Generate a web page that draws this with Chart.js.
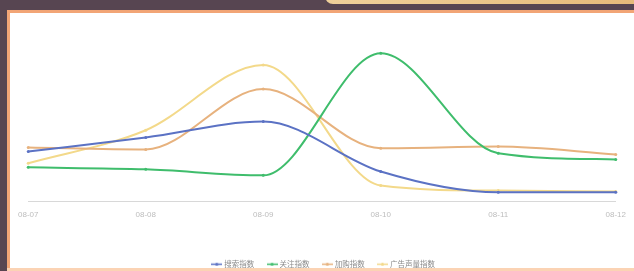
<!DOCTYPE html>
<html lang="zh">
<head>
    <meta charset="UTF-8">
    <title>指数趋势</title>
    <style>
        html, body { margin: 0; padding: 0; }
        body { width: 634px; height: 271px; background: #574551; position: relative; overflow: hidden; font-family: "Noto Sans CJK SC", "Noto Sans", sans-serif; }
        .tab { position: absolute; left: 325px; top: -12px; width: 330px; height: 16px; border-radius: 8px; background: linear-gradient(90deg, #efd09a, #e6b978); }
        .panel { position: absolute; left: 7px; top: 10px; width: 640px; height: 261px; background: #fff;
                 border-left: 3px solid #f2a576; border-top: 3px solid #f2a576; box-sizing: border-box; }
        #box { position: absolute; left: 10px; top: 13px; width: 624px; height: 265px; }
        .bottom { position: absolute; left: 7px; top: 268px; width: 640px; height: 3px; background: #fbd3b4; }
    </style>
</head>
<body>
    <div class="tab"></div>
    <div class="panel"></div>
    <div id="box"><canvas id="myChart"></canvas></div>
    <div class="bottom"></div>

    <script src="https://cdn.jsdelivr.net/npm/chart.js"></script>
    <script>
    "use strict"

    const dates = ["08-07", "08-08", "08-09", "08-10", "08-11", "08-12"]
    const search = [30, 38.5, 48, 18, 5.5, 5.5]
    const follow = [20.5, 19.3, 15.7, 89, 29, 25.3]
    const cart = [32.5, 31.3, 67.5, 32, 33, 28.3]
    const adVoice = [23, 42.8, 82, 9.6, 6.6, 6]

    const colors = ["#5b72c4", "#3fbd6c", "#e7b27e", "#f3d98a"]

    // small "-•-" marker for the legend
    function marker(color) {
        const c = document.createElement("canvas")
        c.width = 11
        c.height = 5
        const g = c.getContext("2d")
        g.strokeStyle = color
        g.lineWidth = 1.5
        g.beginPath()
        g.moveTo(0, 2.5)
        g.lineTo(11, 2.5)
        g.stroke()
        g.fillStyle = color
        g.beginPath()
        g.arc(5.5, 2.5, 1.6, 0, Math.PI * 2)
        g.fill()
        return c
    }

    function line(label, data, color) {
        return {
            label: label,
            data: data,
            borderColor: color,
            backgroundColor: color,
            borderWidth: 2,
            pointRadius: 1.5,
            pointBorderWidth: 0,
            tension: 0.4,
            cubicInterpolationMode: "monotone"
        }
    }

    const ctx = document.getElementById("myChart")
    new Chart(ctx, {
        type: "line",
        data: {
            labels: dates,
            datasets: [
                line("搜索指数", search, colors[0]),
                line("关注指数", follow, colors[1]),
                line("加购指数", cart, colors[2]),
                line("广告声量指数", adVoice, colors[3])
            ]
        },
        options: {
            responsive: true,
            maintainAspectRatio: false,
            animation: false,
            layout: { padding: { left: 18, right: 14, top: 22, bottom: 0 } },
            plugins: {
                tooltip: { enabled: false },
                legend: {
                    position: "bottom",
                    labels: {
                        usePointStyle: true,
                        color: "#8a8a8a",
                        padding: 14,
                        font: { size: 7.5, family: "Noto Sans CJK SC" },
                        generateLabels: function(chart) {
                            const items = Chart.defaults.plugins.legend.labels.generateLabels(chart)
                            items.forEach((it, i) => { it.pointStyle = marker(colors[i]) })
                            return items
                        }
                    }
                }
            },
            scales: {
                y: { display: false, min: 0, max: 100 },
                x: {
                    offset: false,
                    grid: { display: false, drawTicks: false },
                    border: { display: true, color: "#d8d8d8", dash: [3, 3], width: 1 },
                    ticks: { color: "#bdbdbd", padding: 8, font: { size: 8 }, maxRotation: 0 },
                    afterFit: function(scale) { scale.height = 45 }
                }
            }
        }
    })
    </script>
</body>
</html>
